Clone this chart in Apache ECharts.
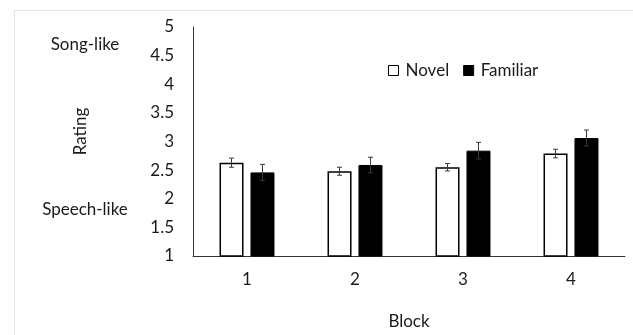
<!DOCTYPE html>
<html><head><meta charset="utf-8">
<script src="https://cdn.jsdelivr.net/npm/echarts@6/dist/echarts.min.js"></script>
<style>html,body{margin:0;padding:0;background:#fff}#c{width:633px;height:335px}</style>
</head><body><div id="c"></div>
<script>
const categories = ['1', '2', '3', '4'];
const novel = [2.63, 2.48, 2.55, 2.79];
const familiar = [2.46, 2.59, 2.84, 3.06];
const novelErr = [0.08, 0.07, 0.065, 0.075];
const familiarErr = [0.14, 0.135, 0.145, 0.14];
const yTicks = [1, 1.5, 2, 2.5, 3, 3.5, 4, 4.5, 5];

const FONT = 'Lato';
const FS = 17;
const TXT = '#1a1a1a';
const BAR_W = 24, GAP = 7;
const off = (BAR_W + GAP) / 2;

function errSeries(name, vals, errs, shift) {
  return {
    type: 'custom', name: name + ' err', silent: true, z: 5,
    data: vals.map((v, i) => [i, v, errs[i]]),
    renderItem: function (params, api) {
      const i = api.value(0), v = api.value(1), e = api.value(2);
      const hi = api.coord([i, v + e]);
      const lo = api.coord([i, v - e]);
      const x = hi[0] + shift;
      const cw = 2.5;
      const st = { stroke: '#3a3a3a', lineWidth: 1 };
      return { type: 'group', children: [
        { type: 'line', shape: { x1: x, y1: hi[1], x2: x, y2: lo[1] }, style: st },
        { type: 'line', shape: { x1: x - cw, y1: hi[1], x2: x + cw, y2: hi[1] }, style: st },
        { type: 'line', shape: { x1: x - cw, y1: lo[1], x2: x + cw, y2: lo[1] }, style: st }
      ]};
    }
  };
}

const chart = echarts.init(document.getElementById('c'));
chart.setOption({
  animation: false,
  backgroundColor: '#fff',
  textStyle: { fontFamily: FONT },
  grid: { left: 193, top: 27, right: 8, bottom: 73, containLabel: false },
  legend: {
    left: 383, top: 57, itemWidth: 10, itemHeight: 10, itemGap: 14,
    textStyle: { fontFamily: FONT, fontSize: FS, color: TXT, padding: [0, 0, 0, 2] },
    data: [
      { name: 'Novel', icon: 'rect', itemStyle: { color: '#fff', borderColor: '#000', borderWidth: 1 } },
      { name: 'Familiar', icon: 'rect', itemStyle: { color: '#000', borderColor: '#000', borderWidth: 1 } }
    ]
  },
  xAxis: {
    type: 'category', data: categories,
    axisLine: { lineStyle: { color: '#333', width: 1 } },
    axisTick: { show: false },
    axisLabel: { fontFamily: FONT, fontSize: FS, color: TXT, margin: 15 },
    name: 'Block', nameLocation: 'middle', nameGap: 57,
    nameTextStyle: { fontFamily: FONT, fontSize: FS, color: TXT }
  },
  yAxis: {
    type: 'value', min: 1, max: 5, interval: 0.5,
    axisLine: { show: true, lineStyle: { color: '#333', width: 1 } },
    axisTick: { show: false },
    splitLine: { show: false },
    axisLabel: { fontFamily: FONT, fontSize: FS, color: TXT, margin: 19,
      formatter: v => (yTicks.indexOf(v) >= 0 ? String(v) : '') }
  },
  series: [
    { name: 'Novel', type: 'bar', data: novel, barWidth: BAR_W, barGap: (GAP / BAR_W * 100).toFixed(0) + '%',
      itemStyle: { color: '#fff', borderColor: '#000', borderWidth: 1.5 } },
    { name: 'Familiar', type: 'bar', data: familiar, barWidth: BAR_W,
      itemStyle: { color: '#000', borderColor: '#000', borderWidth: 1 } },
    errSeries('Novel', novel, novelErr, -off),
    errSeries('Familiar', familiar, familiarErr, off)
  ],
  graphic: [
    { type: 'rect', shape: { x: 14.5, y: 10.5, width: 700, height: 400 }, style: { fill: 'none', stroke: '#e4e4e4', lineWidth: 1 }, z: -1, silent: true },
    { type: 'text', x: 85, y: 45, style: { text: 'Song-like', fontFamily: FONT, fontSize: FS, fill: TXT, align: 'center', verticalAlign: 'middle' } },
    { type: 'text', x: 85, y: 210, style: { text: 'Speech-like', fontFamily: FONT, fontSize: FS, fill: TXT, align: 'center', verticalAlign: 'middle' } },
    { type: 'text', x: 80.5, y: 131.5, rotation: Math.PI / 2, style: { text: 'Rating', fontFamily: FONT, fontSize: FS, fill: TXT, align: 'center', verticalAlign: 'middle' } }
  ]
});
</script></body></html>
